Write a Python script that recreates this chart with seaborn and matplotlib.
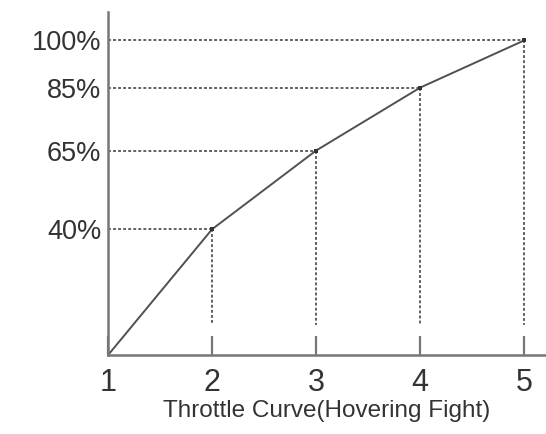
import matplotlib
matplotlib.use("Agg")
import matplotlib.pyplot as plt
import seaborn as sns
import pandas as pd

# Throttle curve points (stick position -> throttle %)
positions = [1, 2, 3, 4, 5]
throttle = [0, 40, 65, 85, 100]
ytick_values = [40, 65, 85, 100]
ytick_labels = ["40%", "65%", "85%", "100%"]

sns.set_theme(style="white")
plt.rcParams["font.family"] = ["Liberation Sans", "DejaVu Sans"]

df = pd.DataFrame({"pos": positions, "thr": throttle})

fig = plt.figure(figsize=(5.46, 4.34), dpi=100)
ax = fig.add_axes([0.198, 0.182, 0.80, 0.79])

line_color = "#505050"
guide_color = "#555555"

sns.lineplot(data=df, x="pos", y="thr", ax=ax, color=line_color, linewidth=1.4)

# Dotted guide lines from each point to the axes
for p, t in zip(positions[1:], throttle[1:]):
    ax.plot([1, p], [t, t], linestyle=(0, (1.6, 1.2)), color=guide_color, linewidth=1.3)
    ax.plot([p, p], [t, 9.5], linestyle=(0, (1.6, 1.2)), color=guide_color, linewidth=1.3)

# Small dots marking the curve points
sns.scatterplot(data=df.iloc[1:], x="pos", y="thr", ax=ax, color="#333333",
                marker="s", s=10, linewidth=0, zorder=5)

ax.set_xlim(1, 5.2)
ax.set_ylim(0, 109)
ax.set_xticks(positions)
ax.set_xticklabels([str(p) for p in positions])
ax.set_yticks(ytick_values)
ax.set_yticklabels(ytick_labels)

for side in ["top", "right"]:
    ax.spines[side].set_visible(False)
for side in ["left", "bottom"]:
    ax.spines[side].set_color("#777777")
    ax.spines[side].set_linewidth(1.8)

ax.tick_params(axis="x", direction="in", length=14, width=1.6, color="#777777",
               labelsize=22, labelcolor="#333333", pad=9, bottom=True)
ax.tick_params(axis="y", length=0, labelsize=19.5, labelcolor="#333333", pad=5)

ax.set_xlabel("Throttle Curve(Hovering Fight)", fontsize=17.5, color="#333333", labelpad=1.5)
ax.set_ylabel("")

fig.savefig("out.png", dpi=100)
